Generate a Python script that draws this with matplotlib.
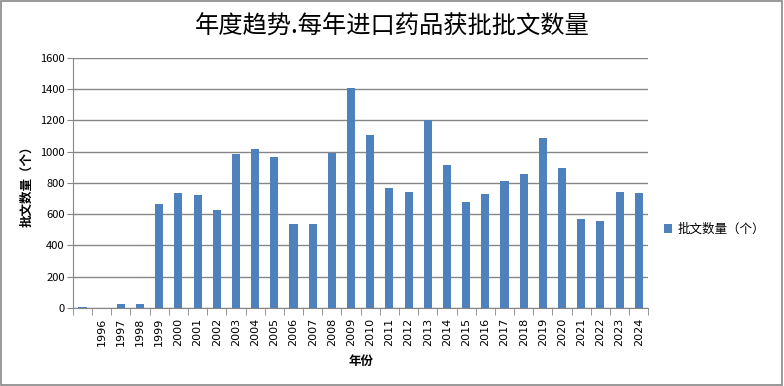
import matplotlib.pyplot as plt
import numpy as np
from matplotlib.patches import Rectangle

plt.rcParams['font.family'] = ['Noto Sans CJK SC', 'DejaVu Sans']

years = ["", "1996", "1997", "1998", "1999", "2000", "2001", "2002", "2003", "2004",
         "2005", "2006", "2007", "2008", "2009", "2010", "2011", "2012", "2013", "2014",
         "2015", "2016", "2017", "2018", "2019", "2020", "2021", "2022", "2023", "2024"]
counts = [6, 0, 25, 25, 666, 736, 723, 627, 986, 1017,
          966, 538, 538, 992, 1410, 1107, 768, 742, 1201, 915,
          678, 730, 813, 858, 1088, 896, 570, 557, 742, 736]
yticks = [0, 200, 400, 600, 800, 1000, 1200, 1400, 1600]

bar_color = "#4F81BD"
grid_color = "#868686"

fig = plt.figure(figsize=(7.84, 3.86), dpi=100)
ax = fig.add_axes([0.093, 0.202, 0.734, 0.648])

x = np.arange(len(years))
ax.bar(x, counts, width=0.42, color=bar_color, label="批文数量（个）", zorder=3)

ax.set_xlim(-0.5, len(years) - 0.5)
ax.set_ylim(0, 1600)
ax.set_yticks(yticks)
ax.set_yticklabels([str(v) for v in yticks], fontsize=8)
ax.yaxis.grid(True, color=grid_color, linewidth=1, zorder=0)
ax.tick_params(axis="y", length=4, color=grid_color, pad=2)

ax.set_xticks(x)
ax.set_xticklabels(years, rotation=90, fontsize=8, family="DejaVu Sans")
ax.set_xticks(np.arange(-0.5, len(years)), minor=True)
ax.tick_params(axis="x", which="major", length=0, pad=7)
ax.tick_params(axis="x", which="minor", length=5, color=grid_color)

for side in ["top", "right"]:
    ax.spines[side].set_visible(False)
for side in ["left", "bottom"]:
    ax.spines[side].set_color(grid_color)

ax.set_xlabel("年份", fontsize=9, fontweight="bold", labelpad=6)
ax.set_ylabel("批文数量（个）", fontsize=9, fontweight="bold", labelpad=5)

fig.suptitle("年度趋势.每年进口药品获批批文数量", fontsize=17.5, fontweight="medium", y=0.965)

fig.legend(loc="center left", bbox_to_anchor=(0.832, 0.405), frameon=False,
           fontsize=9, handlelength=0.7, handleheight=0.7, handletextpad=0.4)

fig.patches.append(Rectangle((0.001, 0.002), 0.997, 0.995, transform=fig.transFigure,
                             fill=False, edgecolor="#888888", linewidth=1.2))

fig.savefig("out.png", dpi=100)
